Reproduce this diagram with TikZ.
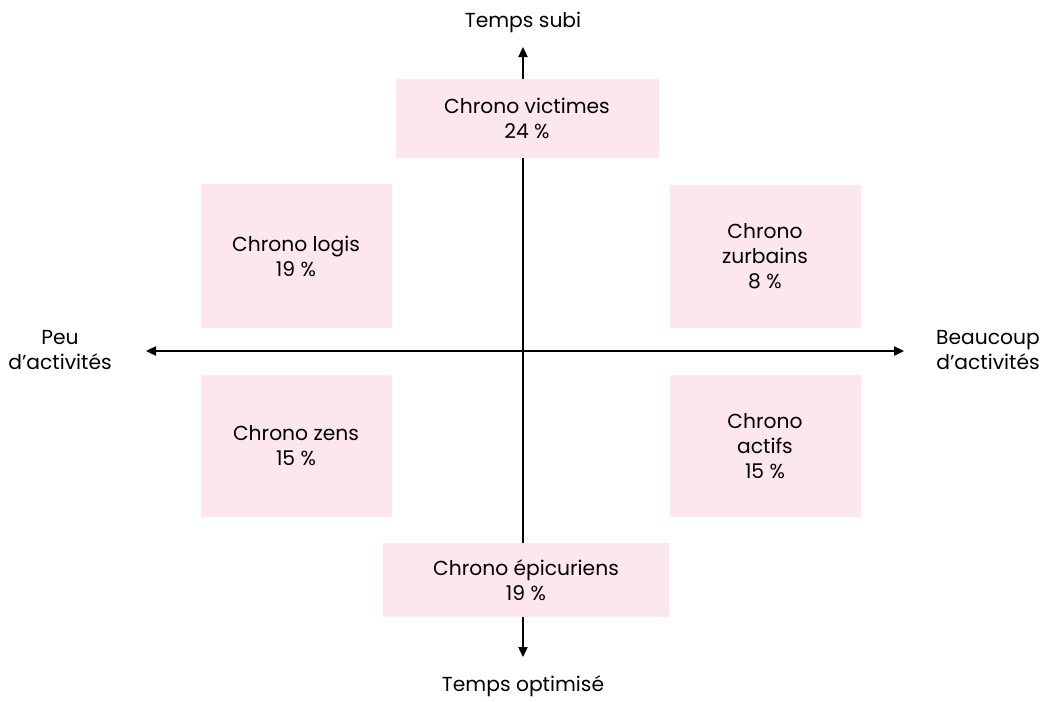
\documentclass[tikz,border=0pt]{standalone}
\usepackage{fontspec}
\setmainfont{Poppins}
\usetikzlibrary{arrows.meta}

\definecolor{rosebox}{RGB}{252,231,240}
\tikzset{
  typebox/.style={fill=rosebox, draw=none, align=center, inner sep=0pt, font=\fontsize{15.2}{18.8}\selectfont},
  axislabel/.style={align=center, inner sep=0pt, font=\fontsize{15.2}{18.8}\selectfont},
  axisline/.style={line width=0.9pt, -{Triangle[length=7.5pt,width=7pt]}}
}

\begin{document}
\begin{tikzpicture}[x=0.75pt,y=0.75pt,yscale=-1,xscale=1]
\useasboundingbox (0,0) rectangle (1044,701);
%Axes ends
\coordinate (O) at (523,351);
\coordinate (top) at (523,47);
\coordinate (bot) at (523,657);
\coordinate (lft) at (146,351);
\coordinate (rgt) at (904,351);
%Axes
\draw [axisline] (O) -- (top);
\draw [axisline] (O) -- (bot);
\draw [axisline] (O) -- (lft);
\draw [axisline] (O) -- (rgt);
%Axis labels
\node [axislabel] (subi) at (523,22) {Temps subi};
\node [axislabel] (optim) at (523,686) {Temps optimisé};
\node [axislabel] (peu) at (60,350) {Peu\\d’activités};
\node [axislabel] (beaucoup) at (988,350) {Beaucoup\\d’activités};
%Boxes
\node [typebox, minimum width=197.25pt, minimum height=59.25pt] (victimes) at (527,118) {Chrono victimes\\24 \%};
\node [typebox, minimum width=143.25pt, minimum height=108pt] (logis) at (296,256) {Chrono logis\\19 \%};
\node [typebox, minimum width=143.25pt, minimum height=107.25pt] (zurbains) at (765,256) {Chrono\\zurbains\\8 \%};
\node [typebox, minimum width=143.25pt, minimum height=106.5pt] (zens) at (296,446) {Chrono zens\\15 \%};
\node [typebox, minimum width=143.25pt, minimum height=106.5pt] (actifs) at (765,446) {Chrono\\actifs\\15 \%};
\node [typebox, minimum width=214.5pt, minimum height=55.5pt] (epicuriens) at (526,580) {Chrono épicuriens\\19 \%};
\end{tikzpicture}
\end{document}
